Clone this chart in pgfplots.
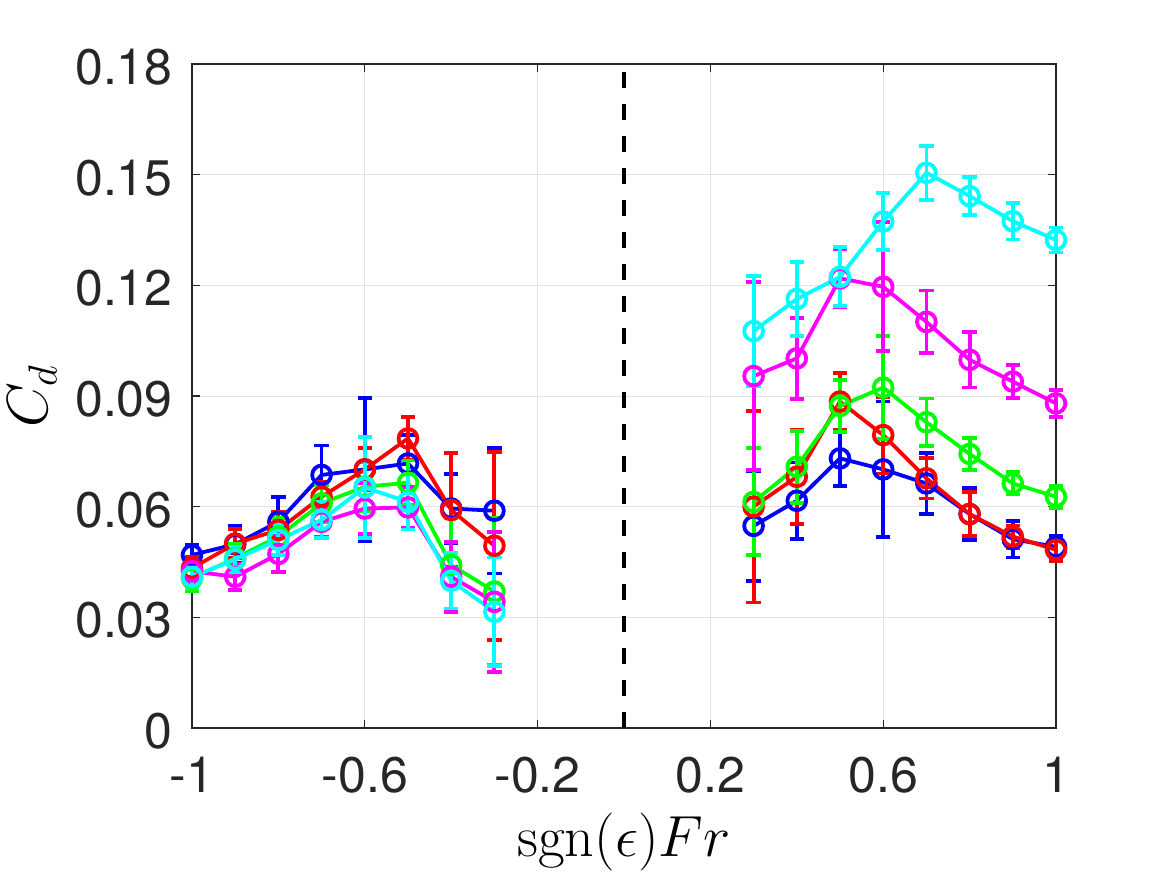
\RequirePackage{fix-cm}
\documentclass[border=0pt]{standalone}
\usepackage[no-math]{fontspec}
\usepackage{pgfplots}
\usepackage{pgfplotstable}
\pgfplotsset{compat=1.18}
\newfontfamily\heros{TeX Gyre Heros}
\definecolor{axgray}{rgb}{0.15,0.15,0.15}
\definecolor{cB}{rgb}{0,0,1}
\definecolor{cR}{rgb}{1,0,0}
\definecolor{cG}{rgb}{0,1,0}
\definecolor{cM}{rgb}{1,0,1}
\definecolor{cC}{rgb}{0,1,1}

% drag coefficient vs signed Froude number, one table per series and branch
\pgfplotstableread{
x y e
-1.0 0.0469 0.0027
-0.9 0.0498 0.0050
-0.8 0.0559 0.0068
-0.7 0.0686 0.0080
-0.6 0.0701 0.0194
-0.5 0.0717 0.0077
-0.4 0.0595 0.0094
-0.3 0.0589 0.0170
}\blueL
\pgfplotstableread{
x y e
0.3 0.0548 0.0149
0.4 0.0616 0.0104
0.5 0.0731 0.0075
0.6 0.0701 0.0184
0.7 0.0663 0.0082
0.8 0.0580 0.0070
0.9 0.0512 0.0050
1.0 0.0491 0.0030
}\blueR
\pgfplotstableread{
x y e
-1.0 0.0433 0.0030
-0.9 0.0500 0.0040
-0.8 0.0537 0.0050
-0.7 0.0627 0.0040
-0.6 0.0701 0.0057
-0.5 0.0785 0.0059
-0.4 0.0591 0.0154
-0.3 0.0494 0.0255
}\redL
\pgfplotstableread{
x y e
0.3 0.0600 0.0260
0.4 0.0681 0.0127
0.5 0.0885 0.0078
0.6 0.0794 0.0104
0.7 0.0677 0.0055
0.8 0.0580 0.0059
0.9 0.0519 0.0030
1.0 0.0483 0.0030
}\redR
\pgfplotstableread{
x y e
-1.0 0.0406 0.0036
-0.9 0.0460 0.0040
-0.8 0.0519 0.0050
-0.7 0.0609 0.0050
-0.6 0.0654 0.0067
-0.5 0.0665 0.0060
-0.4 0.0442 0.0126
-0.3 0.0370 0.0200
}\greenL
\pgfplotstableread{
x y e
0.3 0.0613 0.0145
0.4 0.0708 0.0097
0.5 0.0873 0.0070
0.6 0.0923 0.0140
0.7 0.0829 0.0064
0.8 0.0743 0.0043
0.9 0.0663 0.0030
1.0 0.0627 0.0030
}\greenR
\pgfplotstableread{
x y e
-1.0 0.0425 0.0030
-0.9 0.0410 0.0036
-0.8 0.0472 0.0050
-0.7 0.0559 0.0040
-0.6 0.0595 0.0070
-0.5 0.0598 0.0055
-0.4 0.0410 0.0095
-0.3 0.0342 0.0190
}\magL
\pgfplotstableread{
x y e
0.3 0.0954 0.0255
0.4 0.1002 0.0110
0.5 0.1219 0.0079
0.6 0.1196 0.0175
0.7 0.1101 0.0085
0.8 0.0998 0.0075
0.9 0.0939 0.0044
1.0 0.0880 0.0037
}\magR
\pgfplotstableread{
x y e
-1.0 0.0410 0.0030
-0.9 0.0457 0.0034
-0.8 0.0510 0.0040
-0.7 0.0564 0.0050
-0.6 0.0652 0.0137
-0.5 0.0613 0.0075
-0.4 0.0399 0.0075
-0.3 0.0315 0.0147
}\cyanL
\pgfplotstableread{
x y e
0.3 0.1076 0.0150
0.4 0.1163 0.0100
0.5 0.1223 0.0080
0.6 0.1373 0.0078
0.7 0.1505 0.0073
0.8 0.1442 0.0052
0.9 0.1374 0.0050
1.0 0.1323 0.0034
}\cyanR

\pgfplotsset{
  cdser/.style={
    line width=1.9pt, mark=o, mark size=4.7pt,
    mark options={solid, line width=1.9pt},
    error bars/.cd, y dir=both, y explicit,
    error bar style={line width=1.9pt},
    error mark options={rotate=90, mark size=3.6pt, line width=1.9pt}
  }
}

\begin{document}
\begin{tikzpicture}
\begin{axis}[
  at={(0,0)}, anchor=south west,
  scale only axis, width=432pt, height=332pt,
  xmin=-1, xmax=1, ymin=0, ymax=0.18,
  xtick={-1,-0.6,-0.2,0.2,0.6,1},
  xticklabels={-1,-0.6,-0.2,0.2,0.6,1},
  ytick={0,0.03,0.06,0.09,0.12,0.15,0.18},
  yticklabels={0,0.03,0.06,0.09,0.12,0.15,0.18},
  tick align=inside, major tick length=4pt,
  tick style={axgray, line width=0.6pt},
  axis line style={axgray, line width=0.8pt},
  grid=major, major grid style={gray!22, line width=0.5pt},
  ticklabel style={font=\heros\fontsize{25}{30}\selectfont, text=axgray},
  xticklabel style={anchor=base, yshift=-32pt},
  yticklabel style={anchor=east, inner sep=0pt, xshift=-9.5pt, yshift=-1.5pt},
  xlabel={$\mathrm{sgn}(\epsilon)Fr$},
  ylabel={$C_d$},
  label style={font=\fontsize{29}{34}\selectfont},
  xlabel style={at={(axis description cs:0.5,-0.1928)}, anchor=base},
  ylabel style={at={(axis description cs:-0.1667,0.5)}, anchor=base, rotate=0},
  clip=false,
]
\addplot[black, line width=1.8pt, dash pattern=on 8pt off 8pt] coordinates {(0,0) (0,0.18)};

\addplot[cB, cdser] table[x=x, y=y, y error=e] {\blueL};
\addplot[cB, cdser] table[x=x, y=y, y error=e] {\blueR};
\addplot[cR, cdser] table[x=x, y=y, y error=e] {\redL};
\addplot[cR, cdser] table[x=x, y=y, y error=e] {\redR};
\addplot[cG, cdser] table[x=x, y=y, y error=e] {\greenL};
\addplot[cG, cdser] table[x=x, y=y, y error=e] {\greenR};
\addplot[cM, cdser] table[x=x, y=y, y error=e] {\magL};
\addplot[cM, cdser] table[x=x, y=y, y error=e] {\magR};
\addplot[cC, cdser] table[x=x, y=y, y error=e] {\cyanL};
\addplot[cC, cdser] table[x=x, y=y, y error=e] {\cyanR};
\end{axis}
\pgfresetboundingbox
\path[use as bounding box] (-96pt,-73.5pt) rectangle (487.5pt,364pt);
\end{tikzpicture}
\end{document}
